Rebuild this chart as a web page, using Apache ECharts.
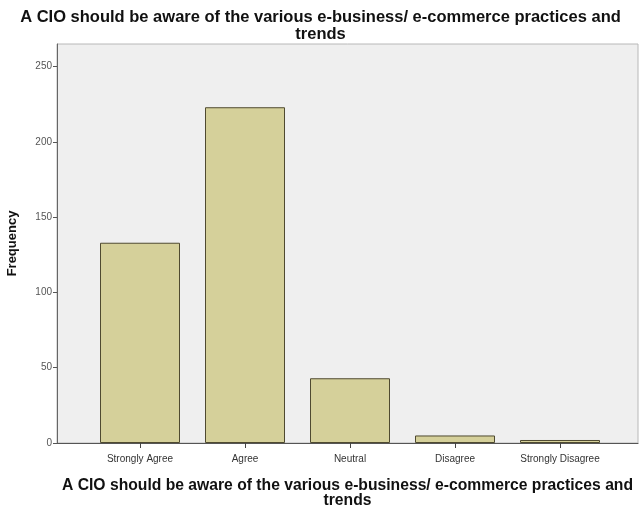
<!DOCTYPE html>
<html>
<head>
<meta charset="utf-8">
<script src="https://cdn.jsdelivr.net/npm/echarts@6/dist/echarts.min.js"></script>
<style>html,body{margin:0;padding:0;background:#fff}#c{width:641px;height:509px}</style>
</head>
<body>
<div id="c"></div>
<script>
var titleText = 'A CIO should be aware of the various e-business/ e-commerce practices and\ntrends';
var categories = ['Strongly Agree', 'Agree', 'Neutral', 'Disagree', 'Strongly Disagree'];
var frequencies = [133, 223, 43, 5, 2];
var yTicks = [0, 50, 100, 150, 200, 250];
var yMax = 265;

var chart = echarts.init(document.getElementById('c'), null, {renderer: 'canvas'});
var font = 'Liberation Sans, Arial, sans-serif';
chart.setOption({
  animation: false,
  backgroundColor: '#ffffff',
  title: {
    text: titleText,
    left: 'center',
    top: 4,
    textStyle: {fontFamily: font, fontSize: 16.5, fontWeight: 'bold', color: '#111', lineHeight: 17}
  },
  grid: [
    {left: 57, right: 3, top: 44, bottom: 66, show: true, backgroundColor: '#efefef', borderColor: '#b8b8b8', borderWidth: 1, outerBoundsMode: 'none', containLabel: false},
    {left: 87.5, right: 28.5, top: 44, bottom: 66, outerBoundsMode: 'none', containLabel: false}
  ],
  xAxis: [
    {
      gridIndex: 0, type: 'value', min: 0, max: 1,
      axisLine: {show: true, onZero: false, lineStyle: {color: '#555', width: 1.2}},
      axisTick: {show: false}, axisLabel: {show: false}, splitLine: {show: false},
      name: titleText, nameLocation: 'middle', nameGap: 35,
      nameTextStyle: {fontFamily: font, fontSize: 15.7, fontWeight: 'bold', color: '#111', lineHeight: 15}
    },
    {
      gridIndex: 1, type: 'category', data: categories,
      axisLine: {show: false},
      axisTick: {show: true, alignWithLabel: true, length: 5, lineStyle: {color: '#444'}},
      axisLabel: {fontFamily: font, fontSize: 10, color: '#333', margin: 11}
    }
  ],
  yAxis: [
    {
      gridIndex: 0, type: 'value', min: 0, max: yMax,
      axisLine: {show: true, lineStyle: {color: '#666'}},
      axisTick: {show: true, length: 4, customValues: yTicks, lineStyle: {color: '#555'}},
      axisLabel: {fontFamily: font, fontSize: 10, color: '#555', margin: 5, customValues: yTicks},
      splitLine: {show: false},
      name: 'Frequency', nameLocation: 'middle', nameGap: 38, nameRotate: 90,
      nameTextStyle: {fontFamily: font, fontSize: 13, fontWeight: 'bold', color: '#111'}
    },
    {
      gridIndex: 1, type: 'value', min: 0, max: yMax, show: false
    }
  ],
  series: [{
    type: 'bar',
    xAxisIndex: 1, yAxisIndex: 1,
    data: frequencies,
    barWidth: 80,
    itemStyle: {color: '#d5d09a', borderColor: '#4f4a30', borderWidth: 1}
  }]
});
</script>
</body>
</html>
